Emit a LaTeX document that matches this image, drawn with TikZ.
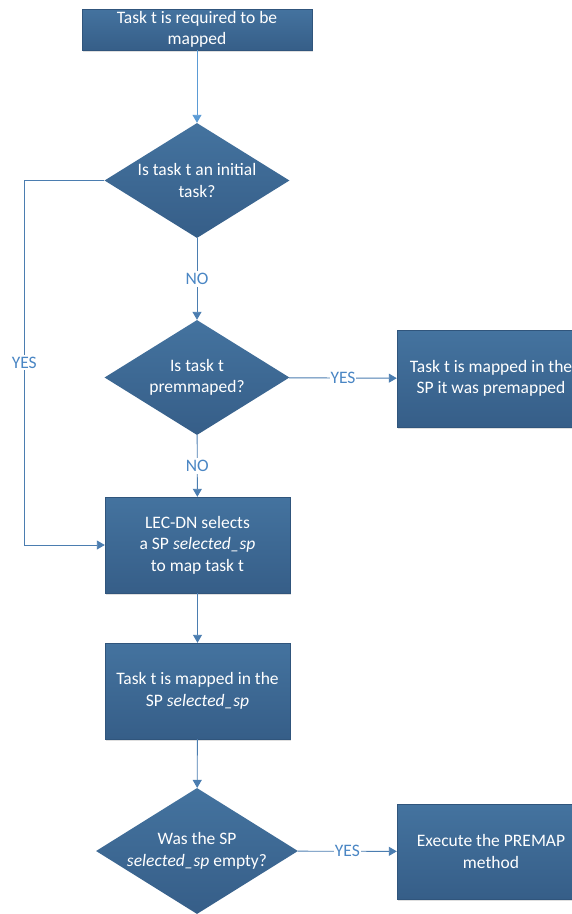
\documentclass[tikz,border=0pt]{standalone}
\usepackage{fontspec}
\setmainfont{Carlito}
\usetikzlibrary{arrows.meta,shapes.geometric,shadows}
\definecolor{boxtop}{HTML}{44739F}
\definecolor{boxbot}{HTML}{365E88}
\definecolor{boxline}{HTML}{30557C}
\definecolor{linkblue}{HTML}{4B7DB0}
\definecolor{startblue}{HTML}{5B9BD5}
\definecolor{answerblue}{HTML}{4A86C4}

\begin{document}
\begin{tikzpicture}[x=1pt,y=-1pt,
    every node/.style={font=\fontsize{17.5}{21.5}\selectfont},
    block/.style={rectangle, draw=boxline, line width=0.4pt, top color=boxtop, bottom color=boxbot,
        text=white, align=center, inner sep=1pt, minimum width=185pt, minimum height=96pt,
        drop shadow={shadow xshift=1pt, shadow yshift=-1.5pt, opacity=0.25, fill=gray}},
    decision/.style={diamond, aspect=1.6, top color=boxtop, bottom color=boxbot,
        text=white, align=center, inner sep=0pt, minimum width=185pt, minimum height=115pt},
    link/.style={draw=linkblue, line width=0.9pt, -{Triangle[length=8pt,width=9pt]}},
    answer/.style={fill=white, text=answerblue, inner xsep=1pt, inner ysep=2pt}]
    \useasboundingbox (0,0) rectangle (572,914);
    % main column
    \node[block, minimum width=230pt, minimum height=41pt] (start) at (197,29.5) {Task t is required to be\\mapped};
    \node[decision] (initial) at (197,180.5) {Is task t an initial\\task?};
    \node[decision] (premap) at (197,377.5) {Is task t\\premmaped?};
    \node[block] (select) at (197.5,545) {LEC-DN selects\\a SP \textit{selected\_sp}\\to map task t};
    \node[block] (mapped) at (197.5,691) {Task t is mapped in the\\SP \textit{selected\_sp}};
    \node[decision, minimum width=202pt, minimum height=126pt] (empty) at (197,851) {Was the SP\\\textit{selected\_sp} empty?};
    % right column
    \node[block, minimum width=188pt, minimum height=97pt] (inpremap) at (491,378.5) {Task t is mapped in the\\SP it was premapped};
    \node[block, minimum width=188pt, minimum height=95pt] (execute) at (491,851.5) {Execute the PREMAP\\method};
    % connectors
    \draw[link, draw=startblue] (start) -- (initial);
    \draw[link] (initial) -- node[midway,answer] {NO} (premap);
    \draw[link] (premap) -- node[midway,answer] {NO} (select);
    \draw[link] (premap) -- node[midway,answer] {YES} (inpremap);
    \draw[link] (initial.west) -- ++(-80,0) |- node[pos=0.25,answer] {YES} (select.west); % initial task
    \draw[link] (select) -- (mapped);
    \draw[link] (mapped) -- (empty);
    \draw[link] (empty) -- node[midway,answer] {YES} (execute);
\end{tikzpicture}
\end{document}
